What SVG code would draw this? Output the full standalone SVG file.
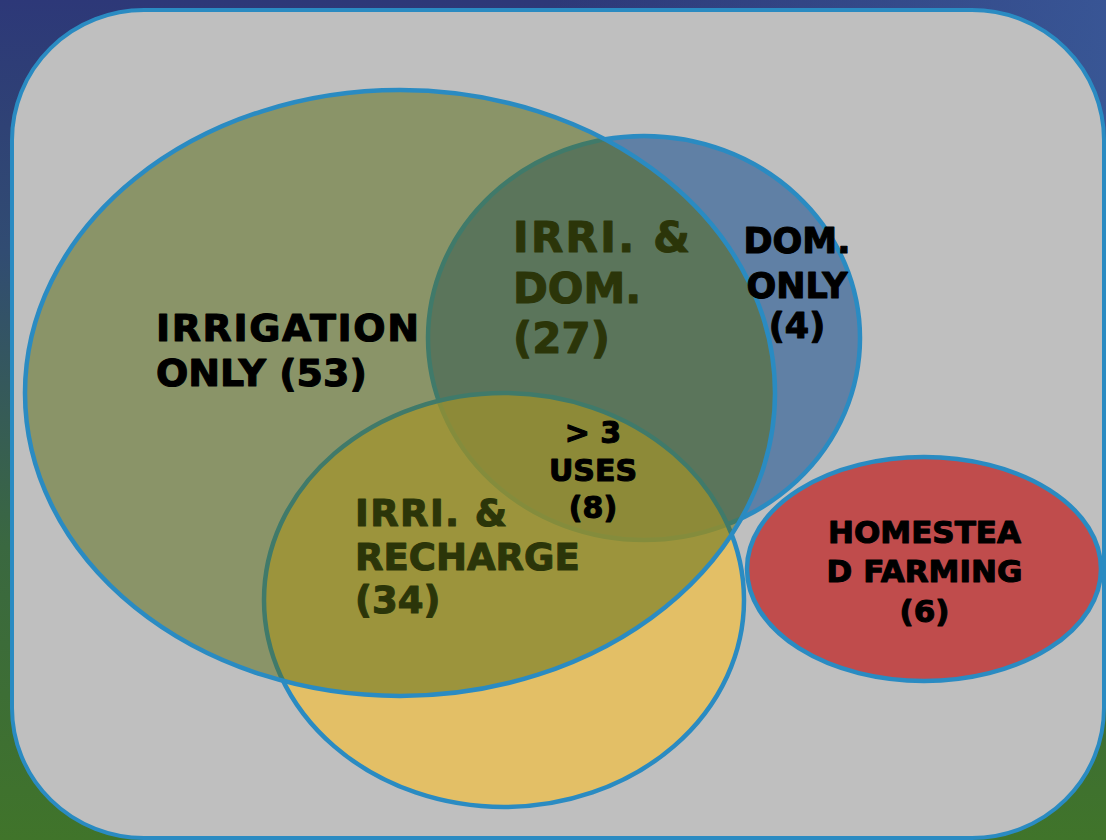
<svg xmlns="http://www.w3.org/2000/svg" width="1106" height="840" viewBox="0 0 1106 840">
  <defs>
    <linearGradient id="bg" x1="0" y1="0" x2="0" y2="1">
      <stop offset="0" stop-color="#2d3878"/>
      <stop offset="0.3" stop-color="#314c72"/>
      <stop offset="0.65" stop-color="#3a6840"/>
      <stop offset="1" stop-color="#40742a"/>
    </linearGradient>
    <linearGradient id="bgr" x1="0" y1="0" x2="1" y2="0">
      <stop offset="0.5" stop-color="#3b5c9c" stop-opacity="0"/>
      <stop offset="1" stop-color="#3b5c9c" stop-opacity="0.8"/>
    </linearGradient>
    <style>
      .set { stroke: #2a8bc2; stroke-width: 4.5; }
      .lbl { font-family: "DejaVu Sans", Verdana, sans-serif; font-weight: bold; fill: #000; stroke: #000; stroke-width: 1.1; stroke-linejoin: round; }
    </style>
  </defs>

  <rect x="0" y="0" width="1106" height="840" fill="url(#bg)"/>
  <rect x="0" y="0" width="1106" height="400" fill="url(#bgr)"/>

  <rect id="frame" x="12" y="10" width="1092" height="828" rx="132" ry="130" fill="#bfbfbf" stroke="#2a8bc2" stroke-width="4"/>

  <g id="domestic">
    <ellipse class="set" cx="644" cy="338" rx="216" ry="202" fill="#6080a5"/>
  </g>

  <g id="recharge">
    <ellipse class="set" cx="504" cy="600" rx="240" ry="207" fill="#f4bf3c" fill-opacity="0.68"/>
  </g>

  <g id="irri-dom">
    <text class="lbl" font-size="42" x="513" y="252" textLength="177">IRRI. &amp;</text>
    <text class="lbl" font-size="42" x="513" y="303">DOM.</text>
    <text class="lbl" font-size="42" x="513" y="353">(27)</text>
  </g>

  <g id="irri-recharge">
    <text class="lbl" font-size="37" x="355" y="526" textLength="152">IRRI. &amp;</text>
    <text class="lbl" font-size="37" x="355" y="570">RECHARGE</text>
    <text class="lbl" font-size="37" x="355" y="613">(34)</text>
  </g>

  <g id="irrigation">
    <ellipse class="set" cx="400" cy="393" rx="375" ry="303" fill="#556911" fill-opacity="0.5"/>
    <text class="lbl" font-size="38" x="156" y="341" textLength="263">IRRIGATION</text>
    <text class="lbl" font-size="38" x="156" y="386">ONLY (53)</text>
  </g>

  <g id="dom-only">
    <text class="lbl" font-size="35" x="797" y="253" text-anchor="middle">DOM.</text>
    <text class="lbl" font-size="35" x="797" y="298" text-anchor="middle">ONLY</text>
    <text class="lbl" font-size="35" x="797" y="338" text-anchor="middle">(4)</text>
  </g>

  <g id="all-uses">
    <text class="lbl" font-size="30" x="593" y="443" text-anchor="middle">&gt; 3</text>
    <text class="lbl" font-size="30" x="593" y="481" text-anchor="middle">USES</text>
    <text class="lbl" font-size="30" x="593" y="518" text-anchor="middle">(8)</text>
  </g>

  <g id="homestead">
    <ellipse class="set" cx="924" cy="569" rx="177" ry="112" fill="#c04c4c"/>
    <text class="lbl" font-size="31" x="924.5" y="543" text-anchor="middle">HOMESTEA</text>
    <text class="lbl" font-size="31" x="924.5" y="582" text-anchor="middle">D FARMING</text>
    <text class="lbl" font-size="31" x="924.5" y="622" text-anchor="middle">(6)</text>
  </g>
</svg>
